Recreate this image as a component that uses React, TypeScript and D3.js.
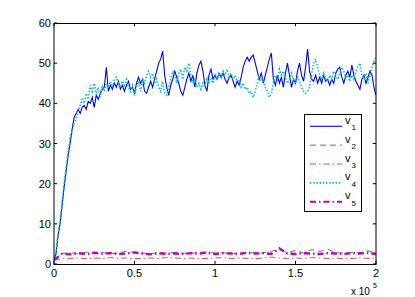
import { useEffect, useRef } from 'react';
import * as d3 from 'd3';

const xTicks = [0, 0.5, 1, 1.5, 2];
const xTickLabels = ['0', '0.5', '1', '1.5', '2'];
const yTicks = [0, 10, 20, 30, 40, 50, 60];

// fast series, one value every 0.0125 (x 10^5)
const fineStep = 0.0125;
const v1 = [
  1, 2.5, 7, 10, 14.5, 19, 23, 27, 30, 33.5, 36.5, 37.5, 38.5, 37.5, 39, 39.5, 38.5, 40.5, 40, 41.5,
  39, 42, 41, 42.5, 43.5, 44, 49, 43, 44.5, 43.5, 45, 44, 45.5, 43.5, 44.5, 43, 44.5, 45.5, 43.5, 44,
  42.5, 45, 46.5, 45, 46, 43, 42.5, 44, 45.5, 44, 46, 48, 50, 51, 53, 47, 44, 42, 44.5, 46,
  48, 46.5, 45, 43, 42, 44, 46, 47.5, 45.5, 47, 44, 47.5, 49.5, 50.5, 48, 44.5, 43, 47, 48.5, 46,
  47, 46, 47.5, 46.5, 47.5, 46, 45, 46.5, 47, 45.5, 44, 45.5, 44.5, 46.5, 49, 50.5, 51.5, 50.5, 51.5, 52,
  50, 48, 46, 47.5, 45, 47, 49, 51, 52.5, 46, 44.5, 47, 45, 46.5, 44, 47.5, 50, 47, 44, 46,
  45, 48, 50, 47, 45.5, 49, 53.5, 48, 46, 45.5, 47, 45, 46.5, 45, 47, 45.5, 46, 44.5, 46, 45,
  47.5, 48.5, 49, 46.5, 45, 47, 48, 46.5, 49.5, 47, 45.5, 44.5, 43.5, 46, 47, 45, 46.5, 48, 47, 44,
  42,
];
const v4 = [
  1, 3, 7.5, 10.5, 15, 20, 24, 28, 31.5, 33, 35, 36, 38, 39.5, 41, 40, 42.5, 41, 44.5, 43,
  45, 42.5, 44, 41.5, 44.5, 43, 45, 44, 45.5, 44, 46, 46.5, 45, 44, 45.5, 44.5, 46, 44, 43, 44.5,
  42, 44, 45.5, 43, 46, 45, 47, 48, 46.5, 47.5, 45, 46, 44, 43, 45.5, 42.5, 42, 44, 46, 48,
  47, 45, 47.5, 48.5, 46, 49, 48, 50, 47, 45, 46, 44, 45, 43.5, 45, 44, 46.5, 45, 46, 45,
  47, 46, 47.5, 46.5, 48, 47, 48.5, 46.5, 47.5, 46, 47, 45.5, 46, 44, 45, 43.5, 44, 42.5, 43, 41.5,
  43, 45, 47, 45.5, 46, 44, 43, 41.5, 42.5, 45, 47, 46, 48.5, 47, 48, 46.5, 45, 46, 47.5, 46,
  45, 46.5, 45.5, 44, 43, 42.5, 43, 44, 47, 50, 51, 49, 47, 46, 47.5, 46, 45.5, 47, 46, 48,
  47, 46, 47.5, 49, 48, 46.5, 47, 45.5, 47, 46, 48, 49, 50, 47, 46, 47.5, 45, 47, 49, 50.5,
  51.5,
];

// slow series, one value every 0.05 (x 10^5)
const coarseStep = 0.05;
const v2 = [
  1, 2.6, 2.8, 2.6, 2.9, 2.7, 2.8, 2.6, 2.7, 3.2, 2.8, 2.7, 2.6, 2.8, 2.7, 2.9, 2.7, 2.6, 2.9, 3.0,
  2.7, 2.8, 2.6, 2.7, 2.9, 2.7, 2.8, 3.2, 3.5, 2.8, 3.4, 2.7, 3.6, 3.1, 3.7, 2.8, 2.7, 2.9, 2.8, 3.3,
  2.7,
];
const v3 = [
  1, 1.3, 1.4, 1.5, 1.3, 1.5, 1.4, 1.6, 1.4, 1.5, 1.3, 1.4, 1.5, 1.4, 1.6, 1.5, 1.4, 1.5, 1.3, 1.4,
  1.5, 1.6, 1.4, 1.5, 1.4, 1.3, 1.5, 1.7, 1.5, 1.4, 1.5, 1.4, 1.6, 1.5, 1.4, 1.5, 1.3, 1.4, 1.5, 1.4,
  1.5,
];
const v5 = [
  1, 2.5, 2.4, 2.7, 2.5, 2.8, 2.6, 2.7, 2.5, 2.6, 2.9, 2.6, 2.4, 2.7, 2.5, 2.6, 2.5, 2.7, 2.6, 2.8,
  2.5, 2.7, 2.6, 2.5, 2.8, 2.6, 2.7, 2.5, 3.9, 2.6, 2.5, 2.7, 2.6, 2.5, 2.7, 2.6, 2.5, 2.7, 2.6, 2.8,
  2.5,
];

const seriesNames = ['1', '2', '3', '4', '5'];

export default function App() {
  const svgRef = useRef<SVGSVGElement>(null);

  useEffect(() => {
    if (!svgRef.current) return;
    const width = 415;
    const height = 297;
    const left = 54;
    const right = 376;
    const top = 23;
    const bottom = 264;
    const font = '"Liberation Sans", Arial, Helvetica, sans-serif';

    const svg = d3.select(svgRef.current);
    svg.selectAll('*').remove();
    svg.attr('width', width).attr('height', height);

    svg.append('rect').attr('width', width).attr('height', height).attr('fill', '#fff');

    const x = d3.scaleLinear().domain([0, 2]).range([left, right]);
    const y = d3.scaleLinear().domain([0, 60]).range([bottom, top]);

    svg
      .append('clipPath')
      .attr('id', 'plot-clip')
      .append('rect')
      .attr('x', left)
      .attr('y', top)
      .attr('width', right - left)
      .attr('height', bottom - top);

    const series = [
      { values: v1, step: fineStep, color: '#0000ff', width: 1.1, dash: null },
      { values: v2, step: coarseStep, color: '#3a9a3a', width: 1, dash: '6,4' },
      { values: v3, step: coarseStep, color: '#ff4040', width: 1, dash: '6,3,1.5,3' },
      { values: v4, step: fineStep, color: '#00bfbf', width: 1.6, dash: '1.4,1.8' },
      { values: v5, step: coarseStep, color: '#bf00bf', width: 2.4, dash: '6,3,1.5,3' },
    ];

    const line = (step: number) =>
      d3
        .line<number>()
        .x((_, i) => x(i * step))
        .y((d) => y(d));

    const plot = svg.append('g').attr('clip-path', 'url(#plot-clip)');
    // v1 first, v5 last on top
    series.forEach((s) => {
      plot
        .append('path')
        .datum(s.values)
        .attr('fill', 'none')
        .attr('stroke', s.color)
        .attr('stroke-width', s.width)
        .attr('stroke-dasharray', s.dash)
        .attr('d', line(s.step));
    });

    // axes box
    svg
      .append('rect')
      .attr('x', left)
      .attr('y', top + 0.5)
      .attr('width', right - left)
      .attr('height', bottom - top)
      .attr('fill', 'none')
      .attr('stroke', '#000')
      .attr('stroke-width', 1);

    const tick = 3.2;
    const axes = svg.append('g').attr('stroke', '#000').attr('stroke-width', 1);
    xTicks.forEach((t) => {
      axes.append('line').attr('x1', x(t)).attr('x2', x(t)).attr('y1', bottom).attr('y2', bottom - tick);
      axes.append('line').attr('x1', x(t)).attr('x2', x(t)).attr('y1', top).attr('y2', top + tick);
    });
    yTicks.forEach((t) => {
      axes.append('line').attr('x1', left).attr('x2', left + tick).attr('y1', y(t)).attr('y2', y(t));
      axes.append('line').attr('x1', right).attr('x2', right - tick).attr('y1', y(t)).attr('y2', y(t));
    });

    const labels = svg.append('g').attr('font-family', font).attr('font-size', 11).attr('fill', '#000');
    yTicks.forEach((t) => {
      labels
        .append('text')
        .attr('x', left - 3)
        .attr('y', y(t) + 4)
        .attr('text-anchor', 'end')
        .text(t);
    });
    xTicks.forEach((t, i) => {
      labels
        .append('text')
        .attr('x', x(t))
        .attr('y', bottom + 13)
        .attr('text-anchor', 'middle')
        .text(xTickLabels[i]);
    });

    // x 10^5 exponent label
    const expo = svg.append('text').attr('font-family', font).attr('font-size', 10).attr('fill', '#000');
    expo.append('tspan').attr('x', 351).attr('y', 295).text('x 10');
    expo.append('tspan').attr('x', 373).attr('y', 288).attr('font-size', 7).text('5');

    // legend
    const legend = svg.append('g');
    legend
      .append('rect')
      .attr('x', 304.5)
      .attr('y', 114.5)
      .attr('width', 57)
      .attr('height', 97)
      .attr('fill', '#fff')
      .attr('stroke', '#000')
      .attr('stroke-width', 1);
    series.forEach((s, k) => {
      const ry = 126.3 + k * 18.85;
      legend
        .append('line')
        .attr('x1', 310)
        .attr('x2', 342)
        .attr('y1', ry)
        .attr('y2', ry)
        .attr('stroke', s.color)
        .attr('stroke-width', Math.min(s.width, 2))
        .attr('stroke-dasharray', s.dash);
      legend
        .append('text')
        .attr('font-family', font)
        .attr('font-size', 11)
        .attr('x', 345)
        .attr('y', ry - 2.5)
        .text('v');
      legend
        .append('text')
        .attr('font-family', font)
        .attr('font-size', 8)
        .attr('x', 351.5)
        .attr('y', ry + 4)
        .text(seriesNames[k]);
    });
  }, []);

  return <svg ref={svgRef} style={{ position: 'absolute', left: 0, top: 0 }} />;
}
